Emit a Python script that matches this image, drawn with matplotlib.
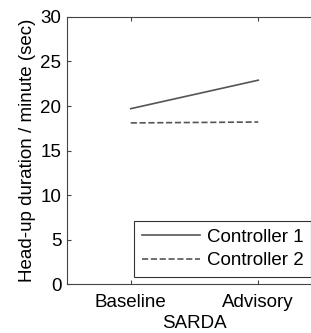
import matplotlib
matplotlib.use('Agg')
import matplotlib.pyplot as plt

plt.rcParams['font.family'] = ['Liberation Sans', 'DejaVu Sans']

# Données
conditions = ['Baseline', 'Advisory']
controller1 = [19.7, 22.9]
controller2 = [18.1, 18.2]
yticks = [0, 5, 10, 15, 20, 25, 30]

fs = 13.5

fig = plt.figure(figsize=(3.11, 3.33), dpi=100)
ax = fig.add_axes([0.2154, 0.147, 0.82, 0.802])

x = [1, 2]
ax.plot(x, controller1, '-', color='#555555', linewidth=1.2, label='Controller 1')
ax.plot(x, controller2, '--', color='#555555', linewidth=1.2, label='Controller 2')

ax.set_xlim(0.5, 2.5)
ax.set_ylim(0, 30)
ax.set_xticks(x)
ax.set_xticklabels(conditions, fontsize=fs)
ax.set_yticks(yticks)
ax.tick_params(axis='both', direction='in', labelsize=fs, length=3, top=True, color='#444444')
ax.tick_params(axis='x', pad=7)
ax.tick_params(axis='y', pad=4)
ax.set_xlabel('SARDA', fontsize=fs, labelpad=3)
ax.set_ylabel('Head-up duration / minute (sec)', fontsize=fs, labelpad=3)
for s in ax.spines.values():
    s.set_color('#444444')
    s.set_linewidth(0.8)
ax.spines['right'].set_visible(False)

leg = ax.legend(loc='upper left', bbox_to_anchor=(134 / 311, 1 - 221 / 333),
                bbox_transform=fig.transFigure, fontsize=fs, fancybox=False,
                edgecolor='#333333', framealpha=1, borderpad=0.4,
                handlelength=3.1, handletextpad=0.4, labelspacing=0.35,
                borderaxespad=0)
leg.get_frame().set_linewidth(0.8)

plt.savefig('out.png', dpi=100)
